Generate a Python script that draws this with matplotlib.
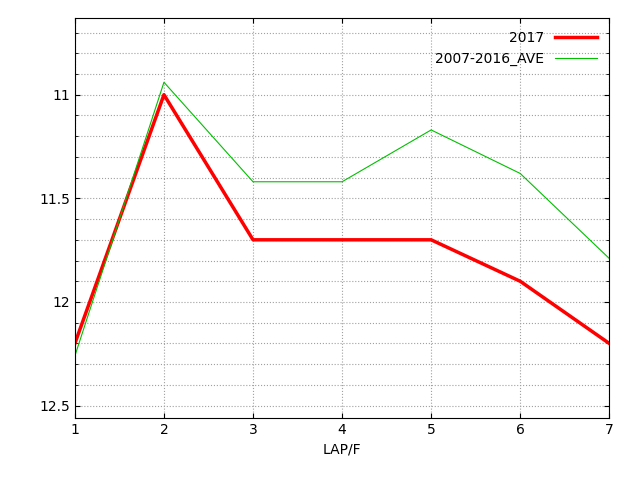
import matplotlib
matplotlib.use("Agg")
import matplotlib.pyplot as plt
import numpy as np

laps = [1, 2, 3, 4, 5, 6, 7]
y2017 = [12.2, 11.0, 11.7, 11.7, 11.7, 11.9, 12.2]
yave = [12.26, 10.94, 11.42, 11.42, 11.17, 11.38, 11.79]

fig = plt.figure(figsize=(6.4, 4.8), dpi=100)
ax = fig.add_axes([0.117, 0.129, 0.835, 0.8335])
ax.plot(laps, y2017, color="#ff0000", lw=2.5, label="2017")
ax.plot(laps, yave, color="#00c000", lw=0.8, label="2007-2016_AVE")
ax.set_xlim(1, 7)
ax.set_ylim(12.56, 10.63)
ax.set_yticks([11, 11.5, 12, 12.5])
ax.set_yticklabels(["11", "11.5", "12", "12.5"])
ax.set_yticks(np.arange(10.7, 12.55, 0.1), minor=True)
ax.set_xticks(laps)
ax.tick_params(direction="in", which="both", top=True, right=True)
ax.grid(True, which="both", color="#a0a0a0", linestyle=":", lw=0.8)
ax.set_xlabel("LAP/F")
leg = ax.legend(loc="upper right", frameon=False, markerfirst=False, handlelength=3)
for t in leg.get_texts():
    t.set_ha("right")
fig.savefig("out.png")
